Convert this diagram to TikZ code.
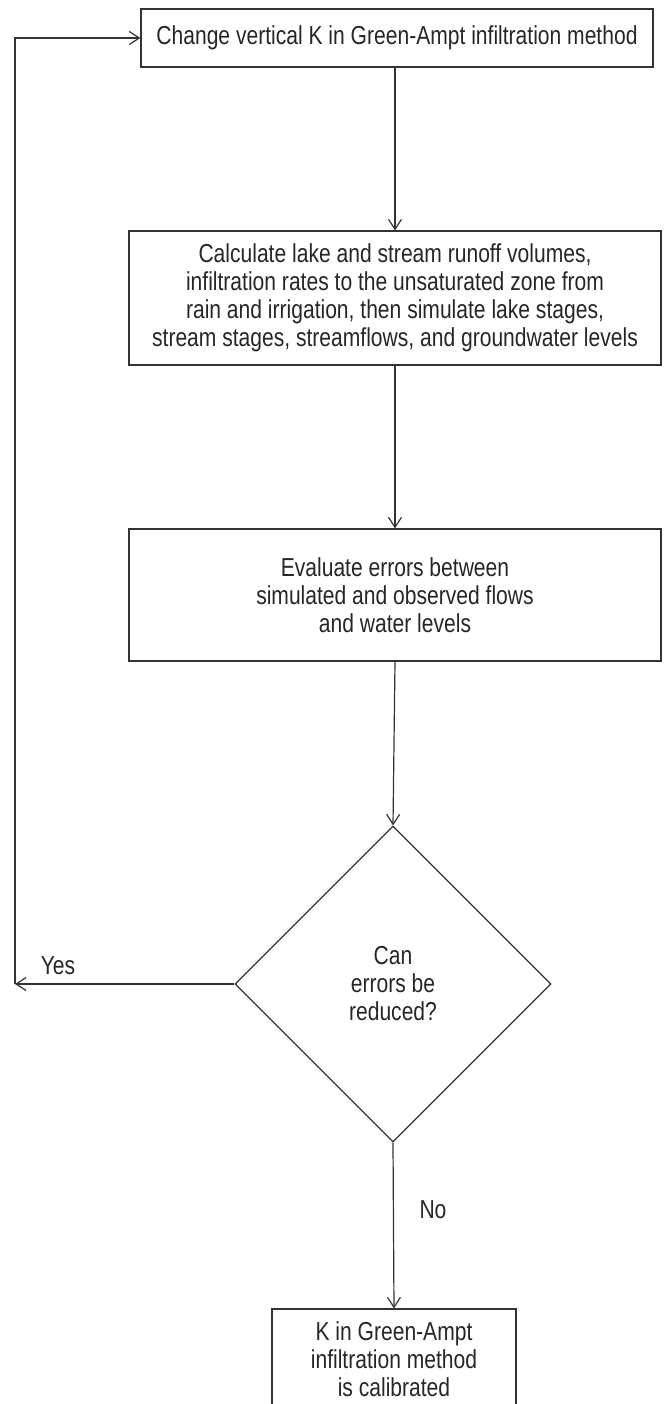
\documentclass[tikz,border=0pt]{standalone}
\usepackage{fontspec}
\setmainfont{Liberation Sans}[FakeStretch=0.81]
\usepackage{tikz}
\usetikzlibrary{arrows.meta,positioning,shapes.geometric}
\definecolor{fcline}{HTML}{333333}
\definecolor{fctext}{HTML}{262626}
\tikzset{
  fc/box/.style={draw=fcline, line width=0.6pt, align=center, inner sep=0pt, text=fctext},
  fc/decision/.style={fc/box, diamond, aspect=1, minimum width=158pt, minimum height=158pt},
  fc/arrow/.style={draw=fcline, line width=0.6pt, -{Straight Barb[length=5pt,width=6.5pt,line width=0.6pt]}},
  fc/label/.style={text=fctext, inner sep=0pt}
}
\begin{document}
\begin{tikzpicture}[x=0.5pt, y=-0.5pt, font=\fontsize{13}{14}\selectfont]
  \useasboundingbox (0,0) rectangle (665,1404);
  % process boxes, all centred on one axis
  \node[fc/box, minimum width=256pt, minimum height=29pt] (change) at (397,38)
    {Change vertical K in Green-Ampt infiltration method};
  \node[fc/box, minimum width=266pt, minimum height=67pt] (calc) at (395,298)
    {Calculate lake and stream runoff volumes,\\
     infiltration rates to the unsaturated zone from\\
     rain and irrigation, then simulate lake stages,\\
     stream stages, streamflows, and groundwater levels};
  \node[fc/box, minimum width=266pt, minimum height=66pt] (eval) at (395,595)
    {Evaluate errors between\\ simulated and observed flows\\ and water levels};
  \node[fc/decision] (reduce) at (393,984) {Can\\ errors be\\ reduced?};
  \node[fc/box, minimum width=122pt, minimum height=50pt] (done) at (394,1359)
    {K in Green-Ampt\\ infiltration method\\ is calibrated};
  % loop back
  \coordinate (back) at (15,984);
  \draw[fc/arrow] (change.south -| calc.north) -- (calc.north);
  \draw[fc/arrow] (calc) -- (eval);
  \draw[fc/arrow] (eval.south) -- (reduce.north);
  \draw[fc/arrow] (reduce.south) -- (done.north);
  \draw[fc/arrow] (reduce.west) -- (back);
  \draw[fc/arrow] (back) |- (change.west);
  \node[fc/label] (yes) at (58,966) {Yes};
  \node[fc/label] (no) at (433,1210) {No};
\end{tikzpicture}
\end{document}
